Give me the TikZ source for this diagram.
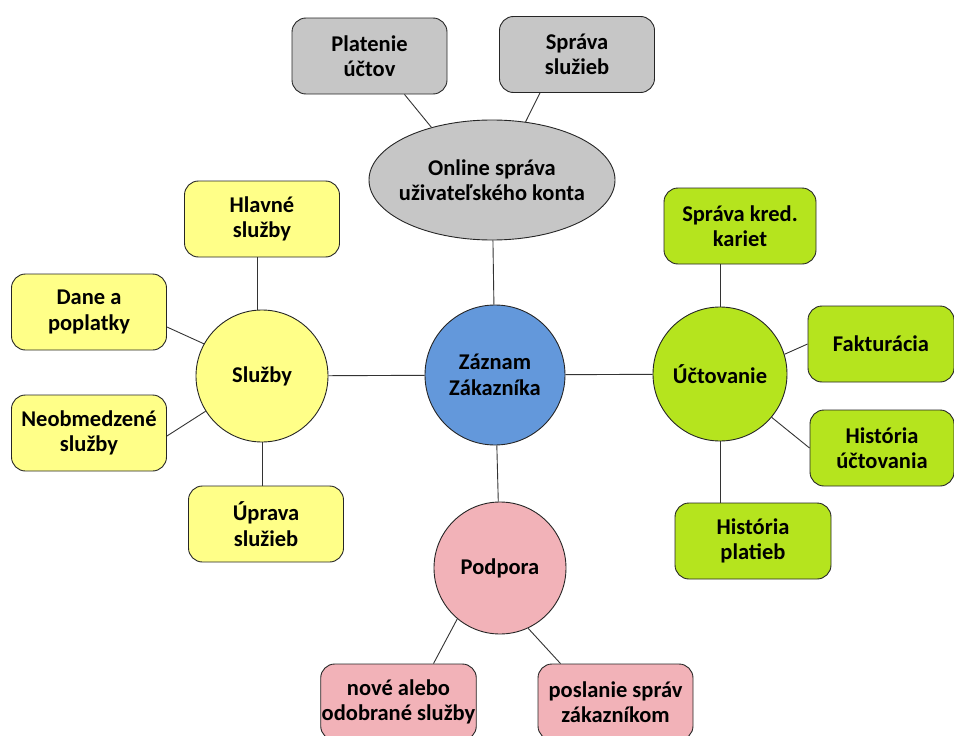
\documentclass[tikz,border=0pt]{standalone}
\usepackage{fontspec}
\setmainfont{Carlito}
\usepackage{tikz}
\usetikzlibrary{shapes.geometric}
\definecolor{hubblue}{RGB}{99,152,219}
\definecolor{boxgray}{RGB}{198,198,198}
\definecolor{boxyellow}{RGB}{255,255,136}
\definecolor{boxgreen}{RGB}{181,228,30}
\definecolor{boxpink}{RGB}{242,178,184}

\begin{document}
\begin{tikzpicture}[
  x=1pt, y=-1pt,
  font=\fontsize{22.5}{25.5}\selectfont\bfseries,
  base/.style={draw=black!85, line width=0.9pt, align=center, inner sep=1pt},
  topic/.style={base, circle, minimum size=134pt},
  leaf/.style={base, rectangle, rounded corners=14pt,
    minimum width=155pt, minimum height=76pt},
  link/.style={line width=0.9pt, draw=black!80}
]
\useasboundingbox (0,0) rectangle (954,736);

% Center and topics
\node[topic, fill=hubblue, minimum size=140pt] (zaz) at (495,375) {Záznam\\Zákazníka};
\node[base, ellipse, fill=boxgray, inner xsep=-12pt, inner ysep=0pt,
  minimum width=246pt, minimum height=120pt] (onl) at (492,180)
  {Online správa\\uživateľského konta};
\node[topic, fill=boxyellow, minimum size=132pt] (sluz) at (262,376) {Služby};
\node[topic, fill=boxgreen] (ucto) at (720,374) {Účtovanie};
\node[topic, fill=boxpink, minimum size=132pt] (podp) at (500,568) {Podpora};

% Online account leaves
\node[leaf, fill=boxgray] (plat) at (369.5,56) {Platenie\\účtov};
\node[leaf, fill=boxgray] (sprs) at (577,54.5) {Správa\\služieb};

% Services leaves
\node[leaf, fill=boxyellow] (hlav) at (262,219) {Hlavné\\služby};
\node[leaf, fill=boxyellow] (dane) at (89,312) {Dane a\\poplatky};
\node[leaf, fill=boxyellow] (neob) at (89,433) {Neobmedzené\\služby};
\node[leaf, fill=boxyellow] (uprav) at (266,524) {Úprava\\služieb};

% Billing leaves
\node[leaf, fill=boxgreen, minimum width=152pt] (kred) at (740,226) {Správa kred.\\kariet};
\node[leaf, fill=boxgreen, minimum width=146pt] (fakt) at (881,344) {Fakturácia};
\node[leaf, fill=boxgreen, minimum width=144pt] (hist) at (882,448) {História\\účtovania};
\node[leaf, fill=boxgreen, minimum width=156pt] (platb) at (753,541) {História\\platieb};

% Support leaves
\node[leaf, fill=boxpink] (nove) at (398.5,702) {nové alebo\\odobrané služby};
\node[leaf, fill=boxpink] (posl) at (615.5,702) {poslanie správ\\zákazníkom};

% Links from the center
\draw[link] (onl) -- (zaz);
\draw[link] (sluz) -- (zaz);
\draw[link] (zaz) -- (ucto);
\draw[link] (zaz) -- (podp);

% Links to the leaves
\draw[link] ([xshift=35pt]plat.south) -- (onl.139);
\draw[link] ([xshift=-37pt]sprs.south) -- (onl.60);
\draw[link] ([xshift=-5pt]hlav.south) -- ([xshift=-5pt]hlav.south |- sluz.north);
\draw[link] ([yshift=-15pt]dane.east) -- (sluz.151);
\draw[link] ([yshift=-3pt]neob.east) -- (sluz.212);
\draw[link] (sluz.south) -- (sluz.south |- uprav.north);
\draw[link] (ucto.north) -- (ucto.north |- kred.south);
\draw[link] (fakt.west) -- (ucto.17);
\draw[link] (hist.west) -- (ucto.320);
\draw[link] (ucto.south) -- (ucto.south |- platb.north);
\draw[link] (podp.230) -- ([xshift=35pt]nove.north);
\draw[link] (podp.295) -- ([xshift=-55pt]posl.north);
\end{tikzpicture}
\end{document}
